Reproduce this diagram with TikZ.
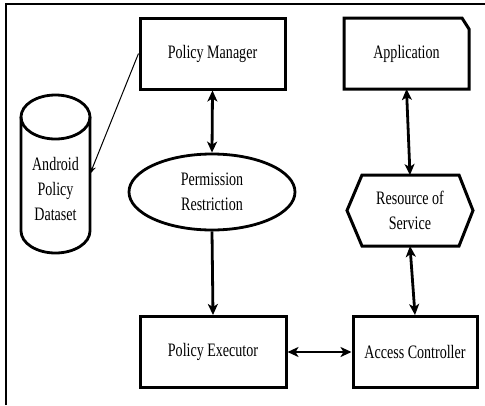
\documentclass[tikz,border=0pt]{standalone}
\usepackage{fontspec}
\setmainfont{Liberation Serif}[FakeStretch=0.74]
\usepackage{tikz}
\usetikzlibrary{arrows.meta,shapes.geometric}

\begin{document}
\begin{tikzpicture}[x=1pt, y=-1pt, line width=2.8pt, >={Stealth[length=11pt,width=10pt,inset=3pt]},
    every node/.style={font=\fontsize{19}{25}\selectfont, align=center, inner sep=0pt},
    box/.style={rectangle, draw, line width=3pt, minimum width=#1, minimum height=71pt},
    ghost/.style={rectangle, minimum width=#1, minimum height=71pt, outer sep=0pt}]
\useasboundingbox (0,0) rectangle (485,405);
% frame
\draw[line width=2pt] (6,405) -- (6,4) -- (485,4);
\draw (212.5,53.5) node[box=145pt](pm){Policy Manager}
    (406.5,53.5) node[ghost=125pt](app){Application}
    (55.5,174) node[ghost=69pt, minimum height=158pt](db){}
    (55.5,189) node(dbtext){Android\\Policy\\Dataset}
    (212,192) node[ellipse, draw, minimum width=166pt, minimum height=76pt](pr){Permission\\Restriction}
    (410,210.5) node[ghost=126pt](rs){Resource of\\Service}
    (213,352) node[box=146pt](pe){Policy Executor}
    (415,352) node[box=124pt](ac){Access Controller};
% outlines
\draw[line width=3pt] (app.south west) -- (app.north west) -- ([xshift=-7pt]app.north east)
    -- ([yshift=-11pt]app.north east) -- (app.south east) -- cycle;
\draw[line width=3pt] (rs.west) -- ([xshift=15pt]rs.north west) -- ([xshift=-14pt]rs.north east)
    -- (rs.east) -- ([xshift=-14pt]rs.south east) -- ([xshift=15pt]rs.south west) -- cycle;
\draw ([yshift=-22pt]db.north) ellipse [x radius=34.5, y radius=22];
\draw ([yshift=-22pt]db.north west) -- ([yshift=22pt]db.south west)
    arc[start angle=180, end angle=0, x radius=34.5, y radius=22] -- ([yshift=-22pt]db.north east);
% connectors
\draw [->, line width=1pt, >={Stealth[length=8pt,width=6pt]}] (pm.west) -- (db.east);
\draw [<->] (pm.south) -- (pr.north);
\draw [->] (pr.south) -- (pe.north);
\draw [<->] (app.south) -- (rs.north);
\draw [<->] (rs.south) -- (ac.north);
\draw [<->] (pe.east) -- (ac.west);
\end{tikzpicture}
\end{document}
